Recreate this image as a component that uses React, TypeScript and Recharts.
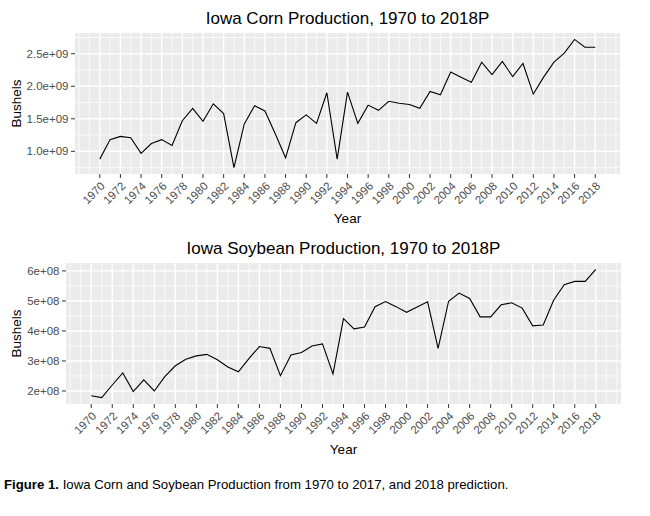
import { LineChart, Line, XAxis, YAxis, CartesianGrid } from 'recharts'

const years = [
  1970, 1971, 1972, 1973, 1974, 1975, 1976, 1977, 1978, 1979,
  1980, 1981, 1982, 1983, 1984, 1985, 1986, 1987, 1988, 1989,
  1990, 1991, 1992, 1993, 1994, 1995, 1996, 1997, 1998, 1999,
  2000, 2001, 2002, 2003, 2004, 2005, 2006, 2007, 2008, 2009,
  2010, 2011, 2012, 2013, 2014, 2015, 2016, 2017, 2018,
]

// bushels
const corn = [
  0.88e9, 1.18e9, 1.23e9, 1.21e9, 0.97e9, 1.12e9, 1.18e9, 1.09e9, 1.47e9, 1.66e9,
  1.46e9, 1.73e9, 1.58e9, 0.75e9, 1.42e9, 1.70e9, 1.62e9, 1.27e9, 0.90e9, 1.44e9,
  1.56e9, 1.43e9, 1.90e9, 0.88e9, 1.91e9, 1.43e9, 1.71e9, 1.63e9, 1.77e9, 1.74e9,
  1.72e9, 1.66e9, 1.92e9, 1.87e9, 2.22e9, 2.14e9, 2.06e9, 2.37e9, 2.18e9, 2.38e9,
  2.15e9, 2.35e9, 1.88e9, 2.14e9, 2.37e9, 2.51e9, 2.72e9, 2.60e9, 2.60e9,
]

const soybean = [
  1.84e8, 1.78e8, 2.20e8, 2.60e8, 1.98e8, 2.37e8, 2.00e8, 2.48e8, 2.84e8, 3.06e8,
  3.17e8, 3.22e8, 3.04e8, 2.80e8, 2.64e8, 3.08e8, 3.48e8, 3.42e8, 2.51e8, 3.20e8,
  3.28e8, 3.50e8, 3.57e8, 2.57e8, 4.41e8, 4.07e8, 4.13e8, 4.81e8, 4.98e8, 4.81e8,
  4.62e8, 4.80e8, 4.97e8, 3.42e8, 4.99e8, 5.26e8, 5.08e8, 4.47e8, 4.47e8, 4.87e8,
  4.94e8, 4.76e8, 4.17e8, 4.20e8, 5.03e8, 5.54e8, 5.65e8, 5.65e8, 6.05e8,
]

const yearTicks = [
  1970, 1972, 1974, 1976, 1978, 1980, 1982, 1984, 1986, 1988, 1990, 1992, 1994,
  1996, 1998, 2000, 2002, 2004, 2006, 2008, 2010, 2012, 2014, 2016, 2018,
]
const yearMinor = [
  1968, 1969, 1971, 1973, 1975, 1977, 1979, 1981, 1983, 1985, 1987, 1989, 1991,
  1993, 1995, 1997, 1999, 2001, 2003, 2005, 2007, 2009, 2011, 2013, 2015, 2017,
  2019, 2020,
]

const cornTicks = [1.0e9, 1.5e9, 2.0e9, 2.5e9]
const cornTickLabels = ['1.0e+09', '1.5e+09', '2.0e+09', '2.5e+09']
const cornMinor = [0.75e9, 1.25e9, 1.75e9, 2.25e9, 2.75e9]

const soyTicks = [2e8, 3e8, 4e8, 5e8, 6e8]
const soyTickLabels = ['2e+08', '3e+08', '4e+08', '5e+08', '6e+08']
const soyMinor = [2.5e8, 3.5e8, 4.5e8, 5.5e8]

const cornData = years.map((year, i) => ({ year, value: corn[i] }))
const soyData = years.map((year, i) => ({ year, value: soybean[i] }))

const FONT = '"Liberation Sans", Arial, sans-serif'
const TICK = '#4D4D4D'

// eslint-disable-next-line @typescript-eslint/no-explicit-any
function YearTick({ x, y, payload }: any) {
  return (
    <text
      x={x}
      y={y}
      dy="0.71em"
      textAnchor="end"
      transform={`rotate(-45 ${x} ${y})`}
      fill={TICK}
      fontSize={11.5}
    >
      {payload.value}
    </text>
  )
}

interface PanelProps {
  data: { year: number; value: number }[]
  height: number
  yWidth: number
  margin: { top: number; right: number; bottom: number; left: number }
  domain: [number, number]
  ticks: number[]
  labels: string[]
  minor: number[]
}

function Panel({ data, height, yWidth, margin, domain, ticks, labels, minor }: PanelProps) {
  return (
    <LineChart width={650} height={height} data={data} margin={margin}>
      <CartesianGrid
        fill="#EBEBEB"
        stroke="#FFFFFF"
        strokeWidth={0.7}
        horizontalValues={minor}
        verticalValues={yearMinor}
      />
      <CartesianGrid
        fill="none"
        stroke="#FFFFFF"
        strokeWidth={1.4}
        horizontalValues={ticks}
        verticalValues={yearTicks}
      />
      <XAxis
        dataKey="year"
        type="number"
        domain={[1967.6, 2020.4]}
        ticks={yearTicks}
        interval={0}
        allowDataOverflow
        height={40}
        axisLine={false}
        tickLine={{ stroke: '#333333', strokeWidth: 1 }}
        tickSize={4}
        tickMargin={3}
        tick={<YearTick />}
      />
      <YAxis
        type="number"
        domain={domain}
        ticks={ticks}
        interval={0}
        allowDataOverflow
        width={yWidth}
        axisLine={false}
        tickLine={{ stroke: '#333333', strokeWidth: 1 }}
        tickSize={4}
        tickMargin={2.5}
        tick={{ fill: TICK, fontSize: 11.5 }}
        tickFormatter={(v: number) => labels[ticks.indexOf(v)] ?? ''}
      />
      <Line
        type="linear"
        dataKey="value"
        stroke="#000000"
        strokeWidth={1.1}
        dot={false}
        isAnimationActive={false}
      />
    </LineChart>
  )
}

export default function App() {
  return (
    <div
      style={{
        position: 'absolute',
        left: 0,
        top: 0,
        width: 650,
        height: 516,
        background: '#fff',
        fontFamily: FONT,
      }}
    >
      <svg
        width={650}
        height={516}
        style={{ position: 'absolute', left: 0, top: 0, pointerEvents: 'none' }}
      >
        <text x={347.5} y={24} textAnchor="middle" fontSize={17} fill="#000">
          Iowa Corn Production, 1970 to 2018P
        </text>
        <text x={343.5} y={254} textAnchor="middle" fontSize={17} fill="#000">
          Iowa Soybean Production, 1970 to 2018P
        </text>
        <text x={347.5} y={222.7} textAnchor="middle" fontSize={13.5} fill="#000">
          Year
        </text>
        <text x={343.5} y={454} textAnchor="middle" fontSize={13.5} fill="#000">
          Year
        </text>
        <text
          transform="translate(20.5 103.5) rotate(-90)"
          textAnchor="middle"
          fontSize={13.5}
          fill="#000"
        >
          Bushels
        </text>
        <text
          transform="translate(20.5 333.4) rotate(-90)"
          textAnchor="middle"
          fontSize={13.5}
          fill="#000"
        >
          Bushels
        </text>
        <text x={4} y={489} fontSize={13.2} fill="#000">
          <tspan fontWeight="bold">Figure 1.</tspan>
          <tspan> Iowa Corn and Soybean Production from 1970 to 2017, and 2018 prediction.</tspan>
        </text>
      </svg>
      <div style={{ position: 'absolute', left: 0, top: 0 }}>
        <Panel
          data={cornData}
          height={230}
          yWidth={75}
          margin={{ top: 33, right: 30, bottom: 16, left: 0 }}
          domain={[0.6515e9, 2.8185e9]}
          ticks={cornTicks}
          labels={cornTickLabels}
          minor={cornMinor}
        />
      </div>
      <div style={{ position: 'absolute', left: 0, top: 230 }}>
        <Panel
          data={soyData}
          height={240}
          yWidth={66}
          margin={{ top: 33, right: 29, bottom: 26, left: 0 }}
          domain={[1.5665e8, 6.2635e8]}
          ticks={soyTicks}
          labels={soyTickLabels}
          minor={soyMinor}
        />
      </div>
    </div>
  )
}
